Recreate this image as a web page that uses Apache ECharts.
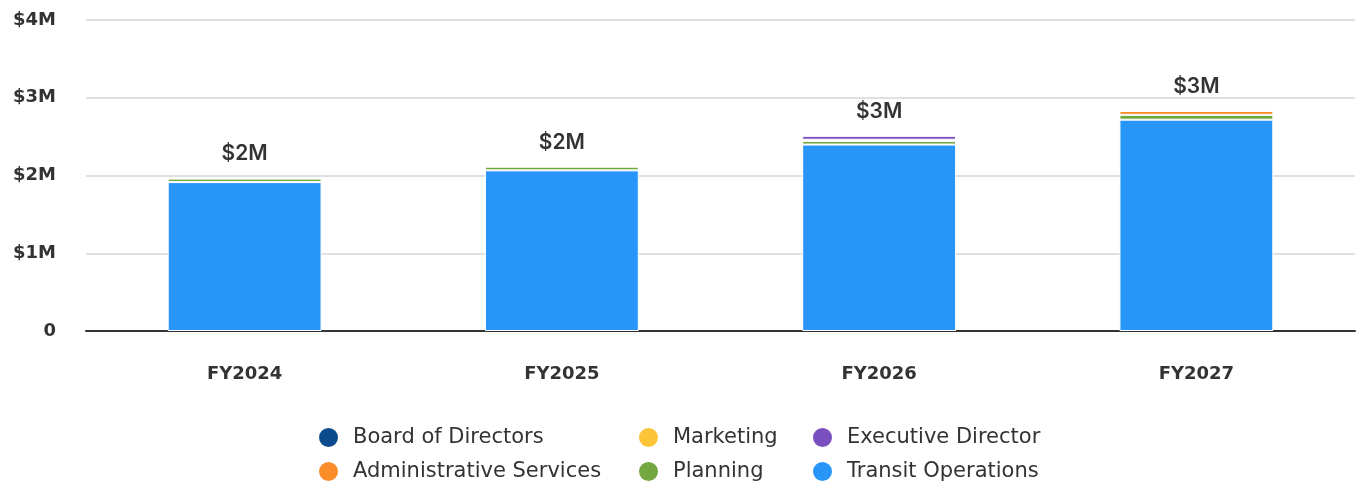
<!DOCTYPE html>
<html>
<head>
<meta charset="utf-8">
<script src="https://cdn.jsdelivr.net/npm/echarts@6/dist/echarts.min.js"></script>
<style>
  html, body { margin: 0; padding: 0; background: #fff; }
  #chart { width: 1358px; height: 487px; }
</style>
</head>
<body>
<div id="chart"></div>
<script>
var years = ['FY2024', 'FY2025', 'FY2026', 'FY2027'];

// values in $M, stacked bottom to top ('-' = no segment)
var transitOps = [1.915, 2.066, 2.398, 2.718];
var planning = [0.045, 0.047, 0.047, 0.062];
var adminServices = ['-', '-', 0.015, 0.05];
var executiveDirector = ['-', '-', 0.05, '-'];
var marketing = ['-', '-', '-', '-'];
var board = ['-', '-', '-', '-'];

var yTicks = [0, 1, 2, 3, 4];

function num(v) { return v === '-' ? 0 : v; }
var totals = [];
for (var i = 0; i < years.length; i++) {
  totals.push(num(transitOps[i]) + num(planning[i]) + num(adminServices[i]) +
    num(executiveDirector[i]) + num(marketing[i]) + num(board[i]));
}

var font = 'Inter, "Open Sans", sans-serif';
var wideFont = '"DejaVu Sans", sans-serif';

function bar(name, data, color) {
  return {
    name: name,
    type: 'bar',
    stack: 'total',
    barWidth: '48.5%',
    data: data,
    itemStyle: { color: color, borderColor: '#fff', borderWidth: 1 }
  };
}

var legendText = { fontFamily: wideFont, fontSize: 21, color: '#333', lineHeight: 21, padding: [0, 0, 0, 9] };
function legendCol(left, names) {
  return {
    orient: 'vertical',
    left: left,
    top: 426,
    padding: 0,
    itemGap: 11,
    itemWidth: 21,
    itemHeight: 21,
    icon: 'circle',
    textStyle: legendText,
    data: names
  };
}

var myChart = echarts.init(document.getElementById('chart'));
var option = {
  animation: false,
  grid: { left: 86, right: 3, top: 20, bottom: 156 },
  legend: [
    legendCol(317, ['Board of Directors', 'Administrative Services']),
    legendCol(637, ['Marketing', 'Planning']),
    legendCol(811, ['Executive Director', 'Transit Operations'])
  ],
  xAxis: {
    type: 'category',
    data: years,
    axisTick: { show: false },
    axisLine: { lineStyle: { color: '#333', width: 2 } },
    axisLabel: { margin: 34, fontFamily: wideFont, fontSize: 18, fontWeight: 'bold', color: '#333' }
  },
  yAxis: {
    type: 'value',
    min: 0,
    max: 4,
    interval: 1,
    axisLabel: {
      margin: 30,
      fontFamily: wideFont,
      fontSize: 18,
      fontWeight: 'bold',
      color: '#333',
      formatter: function (v) { return v === 0 ? '0' : '$' + v + 'M'; }
    },
    splitLine: { lineStyle: { color: '#e0e0e0', width: 2 } }
  },
  series: [
    bar('Transit Operations', transitOps, '#2896f8'),
    bar('Planning', planning, '#72a83f'),
    bar('Administrative Services', adminServices, '#fb8c2a'),
    bar('Executive Director', executiveDirector, '#7a4fc0'),
    bar('Marketing', marketing, '#fdc43a'),
    bar('Board of Directors', board, '#0b4a8b'),
    {
      name: 'total',
      type: 'bar',
      stack: 'total',
      barWidth: '48.5%',
      data: totals.map(function () { return 0; }),
      itemStyle: { color: 'transparent' },
      label: {
        show: true,
        position: 'top',
        distance: 14,
        fontFamily: font,
        fontSize: 21,
        fontWeight: 600,
        color: '#333',
        formatter: function (p) { return '$' + Math.round(totals[p.dataIndex]) + 'M'; }
      }
    }
  ]
};
myChart.setOption(option);
</script>
</body>
</html>
